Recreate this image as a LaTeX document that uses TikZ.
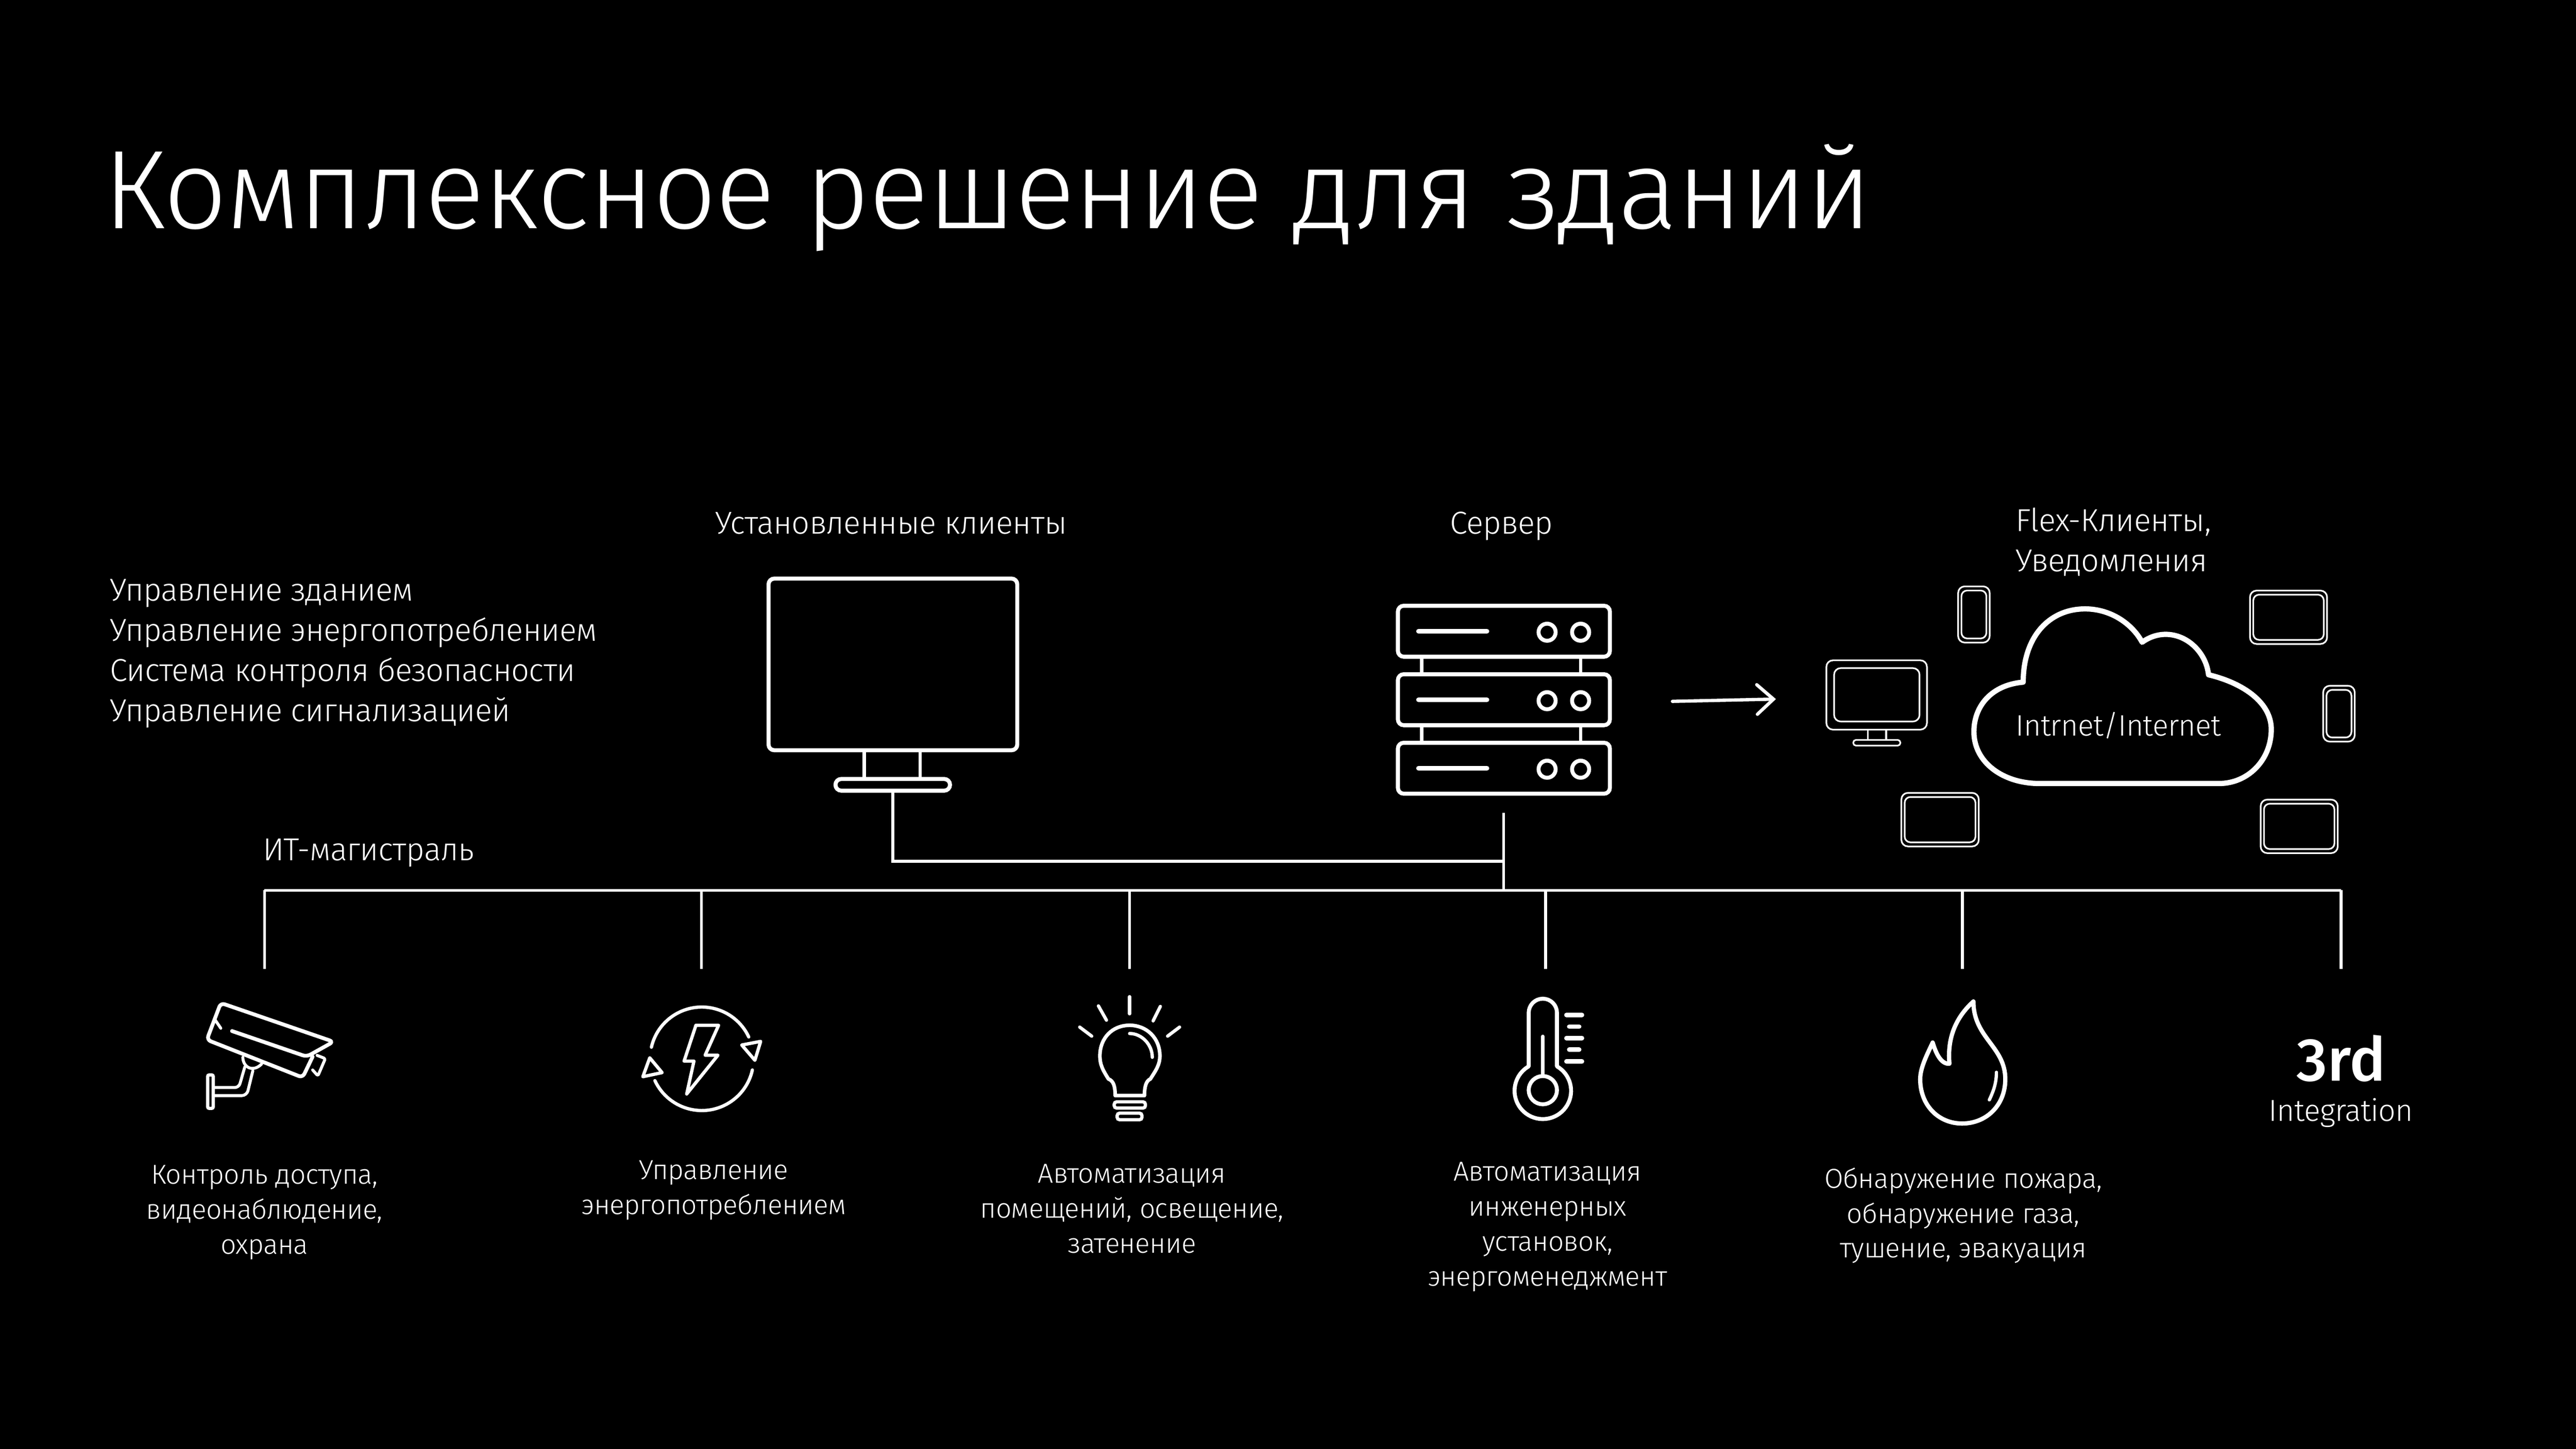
\documentclass[tikz,border=0pt]{standalone}
\usepackage{fontspec}
\setmainfont{Fira Sans Light}[LetterSpace=-1.2]
\newfontfamily\heavyfont{Fira Sans Medium}
\usetikzlibrary{arrows.meta,positioning}
\tikzset{
    icon/.style={draw=white, line width=2.3, line join=round, line cap=round},
    thin icon/.style={draw=white, line width=1, line join=round},
    wire/.style={draw=white, line width=1.7},
    label/.style={text=white, inner sep=0, outer sep=0, font=\fontsize{19.3}{24.5}\selectfont},
    caption/.style={text=white, inner sep=0, outer sep=0, align=center, font=\fontsize{16.7}{21.3}\selectfont},
    frame/.style={draw=white, rounded corners=3.5, inner sep=0, outer sep=0}
}

\begin{document}
\begin{tikzpicture}[x=1pt, y=1pt]
    \useasboundingbox (0,0) rectangle (1568,-882);
    \fill[black] (0,0) rectangle (1568,-882);

    % Draw texts.
    \node[label, anchor=base west, font=\fontsize{68.1}{68}\selectfont] (title) at (63,-139) {Комплексное решение для зданий};
    \node[label, anchor=north west, align=left] (roles) at (67,-352.5) {Управление зданием\\Управление энергопотреблением\\Система контроля безопасности\\Управление сигнализацией};
    \node[label, anchor=base] (installed) at (542.5,-325) {Установленные клиенты};
    \node[label, anchor=base] (server) at (914,-325) {Сервер};
    \node[label, anchor=north west, align=left] (flex) at (1227,-309) {Flex-Клиенты,\\Уведомления};
    \node[label, anchor=base west] (backbone) at (160,-524) {ИТ-магистраль};

    % Draw client monitor.
    \node[frame, line width=2.45, minimum width=151.4, minimum height=104.5] (monitor) at (543.5,-404.5) {};
    \node[frame, line width=2.45, minimum width=69.7, minimum height=7.1] (monbase) at (543.4,-477.8) {};
    \foreach \x in {526,560}
        \draw[draw=white, line width=2] (\x,-458) -- (\x,-474);

    % Draw server.
    \foreach \n/\y in {1/-384.3,2/-426,3/-467.7} {
        \node[frame, line width=2.45, minimum width=129, minimum height=31] (rack\n) at (915.4,\y) {};
        \draw[icon, line width=3] (863.5,\y) -- (905,\y);
        \foreach \x in {941.7,962.1}
            \draw[draw=white, line width=2.4] (\x,\y-.6) circle (5.2);
    }
    \foreach \x in {865.4,962.1} {
        \draw[draw=white, line width=2] (\x,-401) -- (\x,-409.3);
        \draw[draw=white, line width=2] (\x,-442.7) -- (\x,-451);
    }

    % Draw wires to the backbone.
    \coordinate (stub) at (915.3,-495);
    \coordinate (elbow) at (915.3,-524.3);
    \coordinate (busL) at (161,-542);
    \coordinate (busR) at (1425,-542);
    \coordinate (tapS) at (915.3,-542);
    \draw[wire] (busL) -- (busR);
    \draw[wire] (stub) -- (tapS);
    \draw[wire] (monbase.south) |- (elbow);
    \foreach \n/\x in {a/161,b/427,c/687.5,d/940.8,e/1194.5,f/1425} {
        \coordinate (tap\n) at (\x,-542);
        \coordinate (end\n) at (\x,-590);
        \draw[wire] (tap\n) -- (end\n);
    }

    % Draw arrow to the cloud.
    \coordinate (from) at (1018,-427);
    \coordinate (to) at (1081,-425.6);
    \draw[draw=white, line width=2, line cap=round, -{Straight Barb[length=10,width=18,line cap=round]}] (from) -- (to);

    % Draw small monitor and devices.
    \node[frame, thin icon, rounded corners=4, minimum width=61.2, minimum height=42.2] (smallmon) at (1142.3,-423.1) {};
    \node[frame, thin icon, rounded corners=4, minimum width=52, minimum height=32.5] (smallscreen) at (1142.4,-423) {};
    \node[frame, thin icon, rounded corners=1.7, minimum width=28.7, minimum height=3.5] (smallbase) at (1142.4,-452.2) {};
    \foreach \x in {1136.9,1148.1}
        \draw[thin icon] (\x,-444.2) -- (\x,-450.5);
    \foreach \n/\x/\y/\w/\h in {a/1201.5/-374.1/19.2/34.2, b/1393/-375.8/46.9/32.5, c/1423.7/-434.5/19.2/34, d/1180.9/-499/47.1/32.6, e/1399.5/-503.1/46.9/32.6} {
        \node[frame, thin icon, rounded corners=4, minimum width=\w, minimum height=\h] (dev\n) at (\x,\y) {};
        \node[frame, thin icon, rounded corners=3.5, minimum width=\w-4, minimum height=\h-5] (devin\n) at (\x,\y) {};
    }

    % Draw cloud.
    \draw[draw=white, line width=3.2, line join=round] (1231.5,-415.3)
        .. controls (1231.5,-388) and (1247,-370.7) .. (1269.2,-370.7)
        .. controls (1285,-370.7) and (1298,-380) .. (1303.9,-391)
        .. controls (1308,-388) and (1313,-386.2) .. (1318.2,-386.2)
        .. controls (1332,-386.2) and (1343,-398) .. (1344.3,-410.8)
        .. controls (1366,-416) and (1382.5,-428) .. (1382.5,-444)
        .. controls (1382.5,-463) and (1368,-477) .. (1350.8,-477)
        -- (1241.4,-477)
        .. controls (1219,-477) and (1201.5,-464) .. (1201.5,-445.5)
        .. controls (1201.5,-430) and (1212,-417) .. (1231.5,-415.3) -- cycle;
    \node[label, anchor=base, font=\fontsize{18}{22}\selectfont] (cloud) at (1289.5,-448) {Intrnet/Internet};

    % Draw camera.
    \draw[icon, rounded corners=2.5] (141.2,-627.7) -- (186.7,-643.3) -- (203,-634.2) -- (134.4,-610.6) -- (125.9,-633) -- (184.2,-656) -- (190.3,-643.3);
    \draw[icon, line width=1.8] (130.8,-620.7) -- (134.4,-626);
    \draw[icon, line width=1.8, rounded corners=1] (193,-642.5) -- (198,-644.5) -- (193.5,-655) -- (190.3,-651.4);
    \draw[icon, line width=1.8] (147.8,-643.7) .. controls (148,-650) and (154,-653) .. (159.2,-647.8);
    \draw[icon, line width=1.8, rounded corners=2.5] (149,-649.6) -- (145.4,-662.1) -- (130.8,-662.1);
    \draw[icon, line width=1.8, rounded corners=3] (153.9,-651.9) -- (150.2,-667) -- (130.8,-667);
    \draw[draw=white, line width=2, rounded corners=1] (126.4,-654.4) rectangle (129.8,-674.8);

    % Draw energy icon.
    \draw[draw=white, line width=2, line cap=round] (427.2,-644.6) ++(167:31.5) arc (167:25:31.5);
    \draw[draw=white, line width=2, line cap=round] (427.2,-644.6) ++(-12.5:31.5) arc (-12.5:-155:31.5);
    \draw[icon, line width=2] (463,-634) -- (451.5,-636.2) -- (459.5,-645.5) -- cycle;
    \draw[icon, line width=2] (395.5,-644) -- (403,-653) -- (391.3,-655.5) -- cycle;
    \draw[icon, line width=2] (423.6,-624.2) -- (437.4,-624.2) -- (429.2,-642.4) -- (437,-642.4) -- (418,-666) -- (422.4,-646) -- (416.4,-646) -- cycle;

    % Draw bulb.
    \draw[icon, line width=2.2] (678.8,-667) .. controls (678.8,-662) and (678,-658) .. (674.7,-656.9)
        .. controls (671,-651) and (669.5,-648) .. (669.5,-642.8)
        .. controls (669.5,-632) and (677,-624.2) .. (687.6,-624.2)
        .. controls (698,-624.2) and (706,-632) .. (706,-642.8)
        .. controls (706,-648) and (704,-651) .. (700.2,-656.9)
        .. controls (697.5,-658) and (696.6,-662) .. (696.6,-667) -- cycle;
    \draw[icon, line width=2] (687.6,-629.2) .. controls (695,-629.2) and (701.4,-636) .. (701.4,-643.7);
    \draw[frame, line width=2, rounded corners=1.5] (678.2,-670.8) rectangle (697.2,-674.6);
    \draw[frame, line width=2, rounded corners=1.5] (680,-677.7) rectangle (695.1,-681.7);
    \foreach \a/\b/\c/\d in {687.6/-606.8/687.6/-617.2, 668.6/-612.4/673.5/-621.1, 706.3/-612.7/701.9/-621.5, 657.2/-625.3/664.5/-630.8, 718/-625.3/710.7/-630.8}
        \draw[icon, line width=2] (\a,\b) -- (\c,\d);

    % Draw thermometer.
    \draw[icon, line width=2.4] (930.5,-649.2) -- (930.5,-616.6) arc (180:0:8.6) -- (947.7,-649.2)
        arc (60:-240:17.2) -- cycle;
    \draw[draw=white, line width=2.4] (939.1,-663.7) circle (8.6);
    \draw[icon, line width=2.2] (939.1,-631) -- (939.1,-654);
    \foreach \y/\a/\b in {-617.9/953.5/962.9, -625/955.2/961.2, -632/953.5/962.9, -639.1/955.2/961.2, -646.2/953.5/962.9}
        \draw[icon, line width=2.8] (\a,\y) -- (\b,\y);

    % Draw flame.
    \draw[icon, line width=2.6] (1201.2,-609.7)
        .. controls (1201.2,-632) and (1220.6,-637) .. (1220.6,-657)
        .. controls (1220.6,-673) and (1209,-684) .. (1194.3,-684)
        .. controls (1180,-684) and (1168.8,-673) .. (1168.8,-657)
        .. controls (1168.8,-650) and (1173,-642) .. (1176.4,-634.7)
        .. controls (1178,-640) and (1181,-648) .. (1186.6,-647.6)
        .. controls (1185,-630) and (1192,-618) .. (1201.2,-609.7) -- cycle;
    \draw[icon, line width=2] (1215.2,-652.8) .. controls (1215.2,-660) and (1213,-665) .. (1210.9,-669.6);

    % Draw third party label.
    \node[text=white, anchor=base, inner sep=0, font=\fontsize{37}{37}\heavyfont] (third) at (1425,-658.2) {3rd};
    \node[label, anchor=base, font=\fontsize{18.5}{22}\selectfont] (integration) at (1425,-682.7) {Integration};

    % Draw captions.
    \node[caption] (capa) at (161,-738) {Контроль доступа,\\видеонаблюдение,\\охрана};
    \node[caption] (capb) at (434.5,-724.5) {Управление\\энергопотреблением};
    \node[caption] (capc) at (689,-736) {Автоматизация\\помещений, освещение,\\затенение};
    \node[caption] (capd) at (942,-747) {Автоматизация\\инженерных\\установок,\\энергоменеджмент};
    \node[caption] (cape) at (1195,-740) {Обнаружение пожара,\\обнаружение газа,\\тушение, эвакуация};
\end{tikzpicture}
\end{document}
